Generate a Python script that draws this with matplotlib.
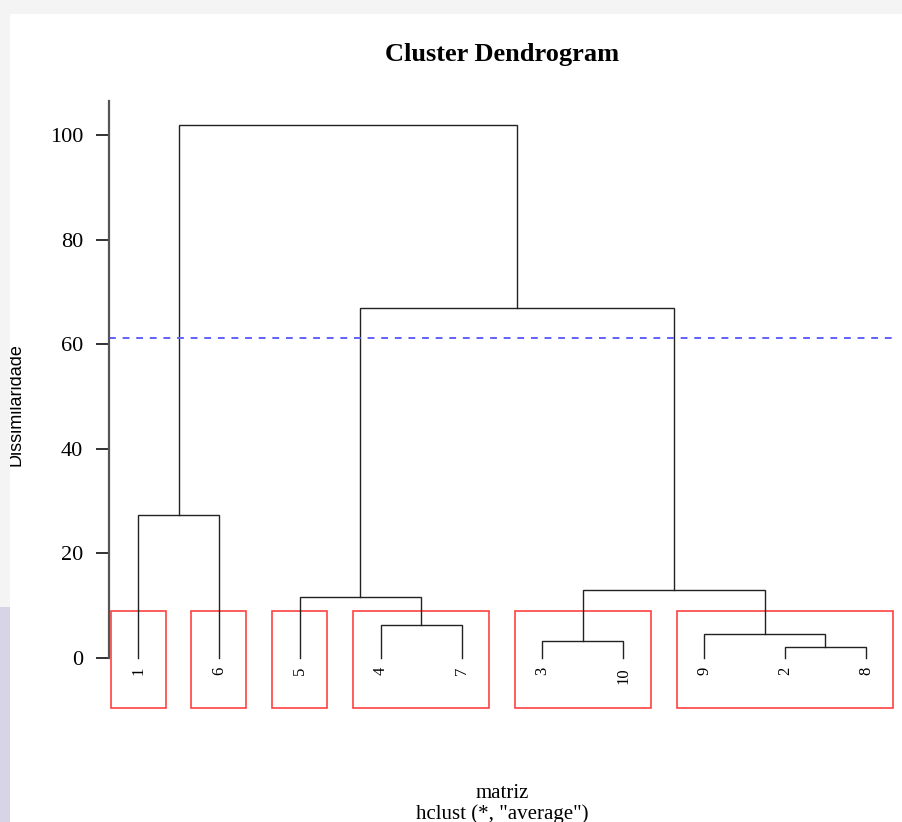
import numpy as np
import matplotlib.pyplot as plt
from matplotlib.patches import Rectangle

# hclust result: leaf labels, merge table (negative = leaf, positive = earlier merge) and heights
labels = ["1", "2", "3", "4", "5", "6", "7", "8", "9", "10"]
merge = [(-2, -8), (-3, -10), (-9, 1), (-4, -7), (-5, 4), (2, 3), (-1, -6), (5, 6), (7, 8)]
heights = [2.1, 3.25, 4.6, 6.3, 11.7, 13.0, 27.3, 66.9, 101.9]
order = [1, 6, 5, 4, 7, 3, 10, 9, 2, 8]

# groups from cutree (k = 6) and the reference line
groups = [[1], [6], [5], [4, 7], [3, 10], [9, 2, 8]]
ref_line = 61.2
cut_height = (heights[3] + heights[4]) / 2

W, H = 903, 822
fig = plt.figure(figsize=(W / 100, H / 100), dpi=100, facecolor="#f4f4f4")

# white page with a gray margin on the top and left
fig.add_artist(Rectangle((10 / W, 0), 1, 1 - 14 / H, transform=fig.transFigure,
                         facecolor="white", edgecolor="none", zorder=-1))

n = len(labels)
xlim = (1 - 0.04 * (n - 1), n + 0.04 * (n - 1))
ylim = (-9.56, 106.4)
ax = fig.add_axes([109 / W, (H - 708) / H, 786 / W, (708 - 101.5) / H])
ax.set_facecolor("none")
ax.set_xlim(*xlim)
ax.set_ylim(*ylim)

# leaf x positions follow the plotting order
pos = {leaf: i + 1 for i, leaf in enumerate(order)}
node_x, node_h = {}, {}


def coord(m):
    if m < 0:
        return pos[-m], 0.0
    return node_x[m], node_h[m]


for i, (a, b) in enumerate(merge, start=1):
    xa, ha = coord(a)
    xb, hb = coord(b)
    h = heights[i - 1]
    ax.plot([xa, xa, xb, xb], [ha, h, h, hb], color="#222222", lw=1.0,
            solid_joinstyle="miter")
    node_x[i] = (xa + xb) / 2
    node_h[i] = h

# leaf labels, rotated like hclust
for leaf in order:
    ax.text(pos[leaf], -1.7, labels[leaf - 1], rotation=90, ha="center", va="top",
            family="Liberation Serif", fontsize=12)

# rectangles around the clusters
for g in groups:
    x0 = pos[g[0]] - 0.34
    x1 = pos[g[-1]] + 0.34
    ax.add_patch(Rectangle((x0, ylim[0]), x1 - x0, cut_height - ylim[0],
                           facecolor="none", edgecolor="#ff2020", lw=1.2, alpha=0.85,
                           clip_on=False))

ax.axhline(ref_line, color="#6060ff", lw=1.4, ls=(0, (3.5, 3.5)))

for s in ["top", "right", "bottom"]:
    ax.spines[s].set_visible(False)
ax.spines["left"].set_bounds(0, ylim[1])
ax.spines["left"].set_color("#555555")
ax.spines["left"].set_linewidth(1.6)
ax.set_xticks([])
ax.set_yticks(np.arange(0, 101, 20))
ax.tick_params(axis="y", length=9.5, width=1.3, color="#222222", pad=9,
               labelsize=16)
for t in ax.get_yticklabels():
    t.set_family("Liberation Serif")

fig.text(502 / W, 1 - 55 / H, "Cluster Dendrogram", ha="center", va="center",
         family="Liberation Serif", fontweight="bold", fontsize=19)
fig.text(502 / W, 1 - 793 / H, "matriz", ha="center", va="center",
         family="Liberation Serif", fontsize=15)
fig.text(502 / W, 1 - 814 / H, 'hclust (*, "average")', ha="center", va="center",
         family="Liberation Serif", fontsize=15)
fig.text(25 / W, 1 - 405 / H, "Dissimilaridade", rotation=90, ha="right", va="center",
         family="Liberation Sans", fontsize=13)

# left margin strip drawn over the label
fig.add_artist(Rectangle((0, 0), 10 / W, 1, transform=fig.transFigure,
                         facecolor="#f4f4f4", edgecolor="none", zorder=10))
fig.add_artist(Rectangle((0, 0), 10 / W, (H - 607) / H, transform=fig.transFigure,
                         facecolor="#d7d5e5", edgecolor="none", zorder=11))

fig.savefig("out.png", dpi=100, facecolor=fig.get_facecolor())
